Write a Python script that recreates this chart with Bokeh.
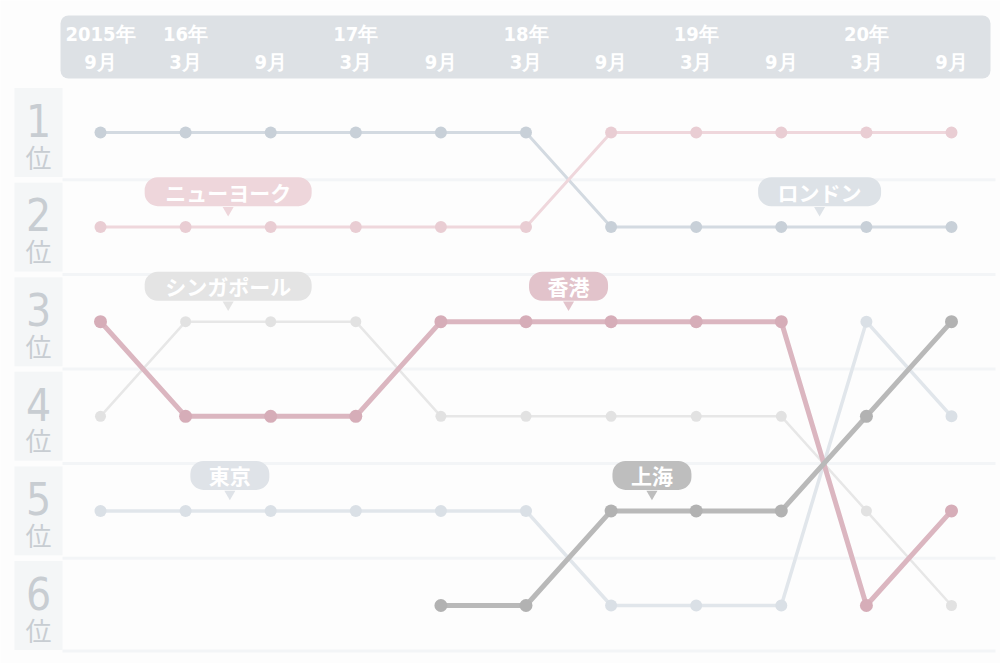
import math
from bokeh.plotting import figure
from bokeh.models import Range1d, BoxAnnotation
from bokeh.core.properties import value
from bokeh.embed import file_html
from bokeh.resources import INLINE

# ---- data ----
periods = list(range(11))
year_labels = ["2015年", "16年", "", "17年", "", "18年", "", "19年", "", "20年", ""]
month_labels = ["9月", "3月", "9月", "3月", "9月", "3月", "9月", "3月", "9月", "3月", "9月"]
ranks = [1, 2, 3, 4, 5, 6]
rank_numbers = ["1", "2", "3", "4", "5", "6"]

london = [1, 1, 1, 1, 1, 1, 2, 2, 2, 2, 2]
new_york = [2, 2, 2, 2, 2, 2, 1, 1, 1, 1, 1]
hong_kong = [3, 4, 4, 4, 3, 3, 3, 3, 3, 6, 5]
singapore = [4, 3, 3, 3, 4, 4, 4, 4, 4, 5, 6]
tokyo = [5, 5, 5, 5, 5, 5, 6, 6, 6, 3, 4]
shanghai = [math.nan, math.nan, math.nan, math.nan, 6, 6, 5, 5, 5, 4, 3]

# series: name, values, line color, marker color, line width, marker size
series = [
    ("シンガポール", singapore, "#e7e7e7", "#e2e2e2", 2.5, 11),
    ("東京", tokyo, "#e1e6eb", "#dae0e6", 3.5, 12),
    ("ロンドン", london, "#d3dae1", "#c8d0d8", 3, 12),
    ("ニューヨーク", new_york, "#efd7dc", "#e9cdd3", 3, 12),
    ("香港", hong_kong, "#dbb6c0", "#d6adb8", 5, 13),
    ("上海", shanghai, "#b9b9b9", "#b2b2b2", 5, 13),
]

# callout labels: text, x position (period index), rank position, colour
callouts = [
    ("ニューヨーク", 1.5, 1.625, "#eed6db"),
    ("シンガポール", 1.5, 2.625, "#e4e4e4"),
    ("ロンドン", 8.45, 1.625, "#dde2e7"),
    ("香港", 5.5, 2.625, "#e2c3cb"),
    ("東京", 1.52, 4.625, "#dfe3e8"),
    ("上海", 6.48, 4.625, "#bebebe"),
]

# ---- figure ----
PX_X = 85.1
PX_Y = 94.6
x0 = -100 / PX_X
x1 = x0 + 1000 / PX_X
ytop = 1 - 132 / PX_Y
ybot = ytop + 663 / PX_Y

p = figure(width=1000, height=663, x_range=Range1d(x0, x1), y_range=Range1d(ybot, ytop),
           output_backend="svg", toolbar_location=None, min_border=0)
p.axis.visible = False
p.grid.visible = False
p.outline_line_color = None
p.background_fill_color = "#fdfdfd"
p.border_fill_color = "#fdfdfd"

# header band
p.add_layout(BoxAnnotation(left=x0 + 60 / PX_X, right=x0 + 990 / PX_X,
                           top=ytop + 15 / PX_Y, bottom=ytop + 78 / PX_Y,
                           fill_color="#dde1e5", fill_alpha=1, line_color=None,
                           border_radius=8, level="underlay"))

# row bands and separators
for r in ranks:
    p.add_layout(BoxAnnotation(left=x0 + 14 / PX_X, right=x0 + 62 / PX_X,
                               top=r - 0.47, bottom=r + 0.47,
                               fill_color="#f4f6f7", fill_alpha=1, line_color=None,
                               level="underlay"))
sep_y = [r + 0.5 for r in ranks[:-1]] + [6.48]
p.segment(x0=[x0 + 62 / PX_X] * len(sep_y), x1=[x0 + 995 / PX_X] * len(sep_y),
          y0=sep_y, y1=sep_y, line_color="#f3f5f7", line_width=3, level="underlay")

COND = value("DejaVu Sans Condensed, Roboto, sans-serif")
# header labels
p.text(x=periods, y=[ytop + 33 / PX_Y] * 11, text=year_labels, text_align="center",
       text_baseline="middle", text_color="white", text_font_size="20px",
       text_font_style="bold", text_font=COND)
p.text(x=periods, y=[ytop + 61 / PX_Y] * 11, text=month_labels, text_align="center",
       text_baseline="middle", text_color="white", text_font_size="20px",
       text_font_style="bold", text_font=COND)

# rank labels
lx = x0 + 38 / PX_X
p.text(x=[lx] * 6, y=[r - 0.13 for r in ranks], text=rank_numbers, text_align="center",
       text_baseline="middle", text_color="#c8cdd2", text_font_size="44px",
       text_font=COND)
p.text(x=[lx] * 6, y=[r + 0.25 for r in ranks], text=["位"] * 6, text_align="center",
       text_baseline="middle", text_color="#c8cdd2", text_font_size="26px",
       text_font=value("Noto Sans CJK JP"))

# series
for name, vals, lc, mc, lw, ms in series:
    p.line(periods, vals, line_color=lc, line_width=lw, line_join="round")
    xs = [x for x, v in zip(periods, vals) if not math.isnan(v)]
    ys = [v for v in vals if not math.isnan(v)]
    p.scatter(xs, ys, size=ms, fill_color=mc, line_color=None)

# callouts
for txt, cx, cy, col in callouts:
    half_w = (22 * len(txt) + 35) / 2 / PX_X
    half_h = 14.5 / PX_Y
    p.add_layout(BoxAnnotation(left=cx - half_w, right=cx + half_w, top=cy - half_h,
                               bottom=cy + half_h, fill_color=col, fill_alpha=1,
                               line_color=None, border_radius=13, level="annotation"))
    r = p.scatter([cx], [cy + half_h + 4 / PX_Y], marker="inverted_triangle", size=11,
                  fill_color=col, line_color=None)
    r.level = "annotation"
    t = p.text(x=[cx], y=[cy], text=[txt], text_align="center", text_baseline="middle",
               text_color="white", text_font_size="21px", text_font_style="bold",
               text_font=value("Noto Sans CJK JP"))
    t.level = "overlay"

open("out.html", "w").write(file_html(p, INLINE))
